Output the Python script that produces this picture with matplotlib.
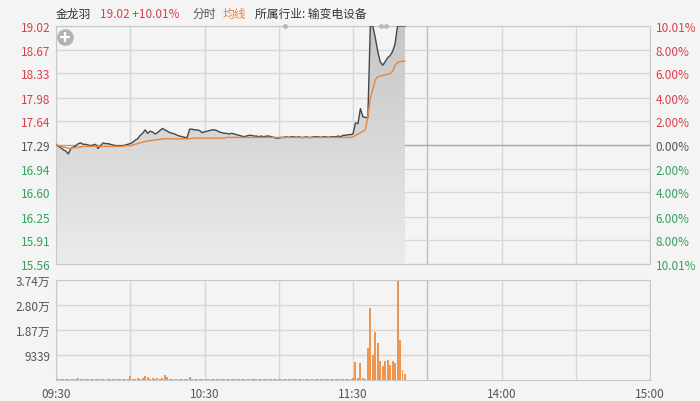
import numpy as np
import matplotlib.pyplot as plt
from matplotlib.patches import Polygon
from matplotlib.colors import LinearSegmentedColormap

plt.rcParams['font.family'] = ['Noto Sans CJK SC', 'DejaVu Sans']

# ---- data (one value per minute from 09:30) ----
price = [
    17.30, 17.27, 17.25, 17.22, 17.20, 17.16, 17.24, 17.26, 17.28, 17.31,
    17.32, 17.30, 17.30, 17.29, 17.28, 17.29, 17.30, 17.24, 17.28, 17.32,
    17.31, 17.31, 17.30, 17.29, 17.28, 17.28, 17.28, 17.28, 17.29, 17.30,
    17.31, 17.33, 17.36, 17.38, 17.43, 17.46, 17.51, 17.46, 17.49, 17.48,
    17.45, 17.47, 17.50, 17.53, 17.51, 17.49, 17.47, 17.46, 17.45, 17.43,
    17.42, 17.41, 17.40, 17.40, 17.52, 17.52, 17.51, 17.51, 17.50, 17.47,
    17.48, 17.49, 17.50, 17.51, 17.51, 17.50, 17.48, 17.47, 17.46, 17.46,
    17.45, 17.46, 17.45, 17.44, 17.43, 17.42, 17.41, 17.42, 17.43, 17.43,
    17.42, 17.42, 17.41, 17.42, 17.41, 17.42, 17.42, 17.41, 17.40, 17.39,
    17.39, 17.40, 17.40, 17.41, 17.40, 17.41, 17.41, 17.40, 17.41, 17.40,
    17.40, 17.41, 17.40, 17.40, 17.41, 17.41, 17.41, 17.40, 17.41, 17.41,
    17.40, 17.41, 17.41, 17.41, 17.42, 17.41, 17.43, 17.43, 17.44, 17.44,
    17.45, 17.61, 17.60, 17.82, 17.70, 17.69, 17.69, 19.02, 19.02, 18.85,
    18.65, 18.50, 18.45, 18.50, 18.56, 18.59, 18.65, 18.76, 19.02, 19.02,
    19.02, 19.02,
]

avg = [
    17.30, 17.28, 17.27, 17.26, 17.25, 17.24, 17.24, 17.25, 17.25, 17.26,
    17.26, 17.27, 17.27, 17.27, 17.27, 17.27, 17.27, 17.27, 17.27, 17.27,
    17.27, 17.27, 17.27, 17.27, 17.27, 17.27, 17.27, 17.27, 17.28, 17.28,
    17.28, 17.29, 17.30, 17.31, 17.32, 17.33, 17.34, 17.35, 17.35, 17.36,
    17.36, 17.37, 17.37, 17.38, 17.38, 17.38, 17.38, 17.38, 17.38, 17.38,
    17.38, 17.38, 17.38, 17.38, 17.38, 17.39, 17.39, 17.39, 17.39, 17.39,
    17.39, 17.39, 17.39, 17.39, 17.39, 17.39, 17.39, 17.39, 17.39, 17.40,
    17.40, 17.40, 17.40, 17.40, 17.40, 17.40, 17.40, 17.40, 17.40, 17.40,
    17.40, 17.40, 17.40, 17.40, 17.40, 17.40, 17.40, 17.40, 17.40, 17.40,
    17.40, 17.40, 17.40, 17.40, 17.40, 17.40, 17.40, 17.40, 17.40, 17.40,
    17.40, 17.40, 17.40, 17.40, 17.40, 17.40, 17.40, 17.40, 17.40, 17.40,
    17.40, 17.40, 17.40, 17.40, 17.40, 17.40, 17.40, 17.40, 17.40, 17.40,
    17.41, 17.43, 17.45, 17.47, 17.49, 17.51, 17.70, 17.97, 18.10, 18.24,
    18.28, 18.29, 18.30, 18.31, 18.32, 18.33, 18.36, 18.45, 18.49, 18.50,
    18.51, 18.51,
]

volume = (
    [1000]
    + [450, 380, 420, 350, 500, 400, 380, 450, 600, 420, 380, 350, 400, 450, 380,
       420, 350, 400, 380, 450, 420, 380, 350, 400, 380, 420, 450, 380, 400]
    + [1370]
    + [500, 420, 600, 380, 700]
    + [1600, 1200]
    + [450, 700, 500, 800, 420, 600]
    + [1700, 1100]
    + [550, 450, 400, 500, 380, 420, 450, 400]
    + [1100]
    + [500, 420, 400, 380, 450, 400, 380, 420, 400, 450,
       380, 400, 420, 380, 400, 450, 380, 420, 400, 380,
       450, 400, 420, 380, 400, 380, 420, 450, 400, 380,
       420, 400, 380, 450, 400, 420, 380, 400, 420, 380,
       450, 400, 380, 420, 400, 380, 420, 450, 400, 380,
       420, 400, 380, 450, 400, 420, 380, 400, 420, 380,
       450, 400, 380, 420, 400]
    + [600, 6600, 800, 6200, 700, 400, 11850, 26800, 9460, 18060, 13700, 7000,
       5100, 7200, 7500, 5600, 7000, 6200, 37356, 15100, 3700, 2200]
)

price_ticks = [19.02, 18.67, 18.33, 17.98, 17.64, 17.29, 16.94, 16.60, 16.25, 15.91, 15.56]
pct_labels = ["10.01%", "8.00%", "6.00%", "4.00%", "2.00%", "0.00%",
              "2.00%", "4.00%", "6.00%", "8.00%", "10.01%"]
vol_ticks = [9339, 18678, 28017, 37356]
vol_labels = ["9339", "1.87万", "2.80万", "3.74万"]
time_ticks = [0, 60, 120, 180, 240]
time_labels = ["09:30", "10:30", "11:30", "14:00", "15:00"]
prev_close = 17.29

BG = '#f4f4f4'
GRID = '#d6d6d6'
RED = '#d8414a'
GREEN = '#35a05a'
GREY = '#555555'
ORANGE = '#e9853a'

minutes = np.arange(len(price))
ylo, yhi = price_ticks[-1], price_ticks[0]

fig = plt.figure(figsize=(7, 4.02), dpi=100, facecolor=BG)
ax = fig.add_axes([56 / 700, 1 - 265 / 402, 594 / 700, 238 / 402], facecolor=BG)
axv = fig.add_axes([56 / 700, 1 - 381 / 402, 594 / 700, 100 / 402], facecolor=BG)

# grid lines
for a in (ax, axv):
    for t in range(0, 241, 30):
        a.axvline(t, color='#bdbdbd' if t == 150 else GRID, lw=1, zorder=0.5)
    for s in a.spines.values():
        s.set_color('#c8c8c8')
for p in price_ticks:
    ax.axhline(p, color='#a5a5a5' if p == prev_close else GRID, lw=1, zorder=0.5)
for v in vol_ticks:
    axv.axhline(v, color=GRID, lw=1, zorder=0.5)

# gradient fill under the price line
poly = Polygon(np.column_stack([np.r_[minutes[0], minutes, minutes[-1]],
                                np.r_[ylo, price, ylo]]),
               closed=True, facecolor='none', edgecolor='none')
ax.add_patch(poly)
cmap = LinearSegmentedColormap.from_list('g', ['#ebebeb', '#c6c6c6'])
im = ax.imshow(np.linspace(0, 1, 256).reshape(-1, 1), extent=[0, 240, ylo, yhi],
               origin='lower', cmap=cmap, aspect='auto', zorder=1)
im.set_clip_path(poly)

ax.plot(minutes, price, color='#474747', lw=1, zorder=3)
ax.plot(minutes, avg, color=ORANGE, lw=1, zorder=3)

ax.set_xlim(0, 240)
ax.set_ylim(ylo, yhi)
ax.set_xticks([])
ax.set_yticks(price_ticks)
ax.set_yticklabels([f"{p:.2f}" for p in price_ticks])
ax.tick_params(axis='y', length=0, pad=4, labelsize=8.5)
for lab, p in zip(ax.get_yticklabels(), price_ticks):
    lab.set_color(RED if p > prev_close else (GREEN if p < prev_close else GREY))

ax2 = ax.twinx()
ax2.set_ylim(ylo, yhi)
ax2.set_yticks(price_ticks)
ax2.set_yticklabels(pct_labels)
ax2.tick_params(axis='y', length=0, pad=4, labelsize=8.5)
for s in ax2.spines.values():
    s.set_visible(False)
for lab, p in zip(ax2.get_yticklabels(), price_ticks):
    lab.set_color(RED if p > prev_close else (GREEN if p < prev_close else GREY))

# plus button and top handles
ax.plot([0.015], [0.955], transform=ax.transAxes, marker='o', ms=12, color='#b3b3b3',
        mec='none', zorder=5, clip_on=False)
ax.plot([0.015], [0.955], transform=ax.transAxes, marker='+', ms=7, mew=1.6,
        color='white', zorder=6, clip_on=False)
ax.plot([(285 - 56) / 594], [1.0], transform=ax.transAxes, marker='o', ms=3.5,
        color='#b8b8b8', mec='none', clip_on=False, zorder=5)
ax.plot([(381 - 56) / 594, (386 - 56) / 594], [1.0, 1.0], transform=ax.transAxes,
        marker='o', ms=3.5, color='#b8b8b8', mec='none', ls='none', clip_on=False, zorder=5)

# volume bars
axv.bar(minutes, volume, width=0.8, color='#ee9550', linewidth=0, zorder=2)
axv.set_xlim(0, 240)
axv.set_ylim(0, vol_ticks[-1])
axv.set_yticks(vol_ticks)
axv.set_yticklabels(vol_labels)
axv.set_xticks(time_ticks)
axv.set_xticklabels(time_labels)
axv.tick_params(length=0, labelsize=8.5, colors=GREY)
axv.tick_params(axis='y', pad=4)
axv.tick_params(axis='x', pad=5)

# header
hy = 1 - 14 / 402
fig.text(56 / 700, hy, "金龙羽", fontsize=8.5, color='#333333', va='center')
fig.text(100 / 700, hy, "19.02 +10.01%", fontsize=8.5, color=RED, va='center')
fig.text(192 / 700, hy, "分时", fontsize=8.5, color=GREY, va='center')
fig.text(223 / 700, hy, "均线", fontsize=8.5, color=ORANGE, va='center')
fig.text(255 / 700, hy, "所属行业: 输变电设备", fontsize=8.5, color='#333333', va='center')

fig.savefig("out.png", dpi=100, facecolor=BG)
